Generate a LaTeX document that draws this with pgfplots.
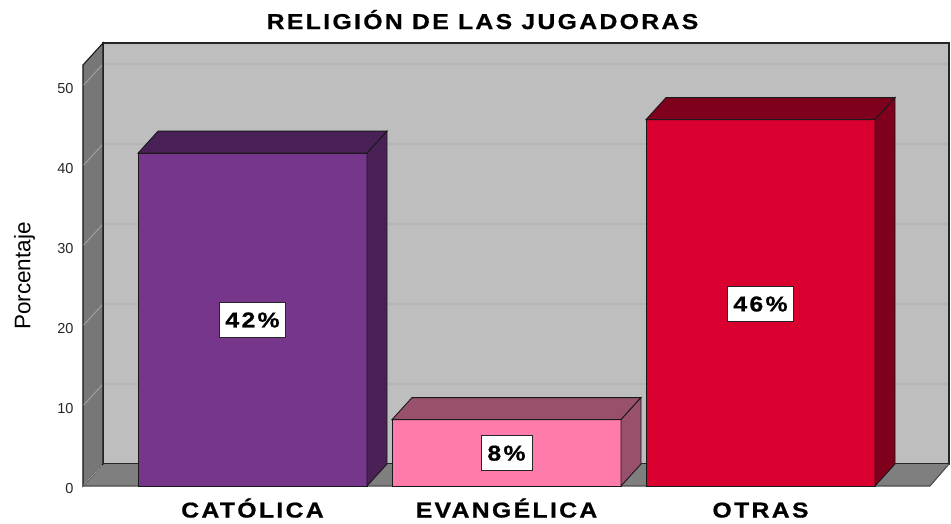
\documentclass[border=0pt]{standalone}
\usepackage{fontspec}
\usepackage{pgfplots}
\pgfplotsset{compat=1.18}
\setmainfont{Liberation Sans}
\newfontfamily\widebold[FakeStretch=1.15,LetterSpace=11,FakeBold=0.8]{Liberation Sans Bold}
\definecolor{wallc}{HTML}{BEBEBE}
\definecolor{sidec}{HTML}{777777}
\definecolor{floorc}{HTML}{7F7F7F}
\definecolor{gridback}{HTML}{B5B5B5}
\definecolor{gridside}{HTML}{A6A6A6}
\definecolor{purplef}{HTML}{75368B}
\definecolor{purplet}{HTML}{4A2157}
\definecolor{pinkf}{HTML}{FF7BAC}
\definecolor{pinkt}{HTML}{99506D}
\definecolor{redf}{HTML}{D9002F}
\definecolor{redt}{HTML}{7F001C}
\begin{document}
\begin{tikzpicture}[x=1pt,y=1pt]
  \useasboundingbox (0,0) rectangle (951,523);
  \begin{axis}[
      at={(83pt,37pt)},
      anchor=south west,
      scale only axis,
      width=866pt,
      height=443pt,
      xmin=83,
      xmax=949,
      ymin=0,
      ymax=55.375,
      clip=false,
      axis line style={draw=none},
      major tick length=0pt,
      xtick={252.5,506.5,760.5},
      xticklabels={CATÓLICA,EVANGÉLICA,OTRAS},
      x tick label style={font=\widebold\fontsize{21.5}{24}\selectfont, text height=20pt, text depth=0pt, yshift=-8pt},
      ytick={0,10,20,30,40,50},
      y tick label style={font=\fontsize{14.5}{16}\selectfont, text=black!85, xshift=-6pt, yshift=-2.5pt},
      /pgf/number format/assume math mode=true,
      ylabel={\fontsize{22.5}{24}\selectfont Porcentaje},
      ylabel style={at={(axis description cs:-0.0675,0.474)}, anchor=center},
      no marks,
    ]
    % walls and floor
    \addplot[fill=wallc, draw=black!85, line width=1.1pt] coordinates {(103,2.75) (949,2.75) (949,55.375) (103,55.375)} --cycle;
    \addplot[fill=floorc, draw=none] coordinates {(83,0) (930,0) (949,2.75) (103,2.75)} --cycle;
    \addplot[fill=sidec, draw=black!90, line width=1.1pt] coordinates {(83,0) (103,2.75) (103,55.375) (83,52.625)} --cycle;
    \addplot[draw=black!70, line width=1.1pt] coordinates {(83,0) (930,0) (949,2.75)};
    % grid lines
    \addplot[gridback, line width=1.2pt] coordinates {(104,12.75) (948,12.75)};
    \addplot[gridback, line width=1.2pt] coordinates {(104,22.75) (948,22.75)};
    \addplot[gridback, line width=1.2pt] coordinates {(104,32.75) (948,32.75)};
    \addplot[gridback, line width=1.2pt] coordinates {(104,42.75) (948,42.75)};
    \addplot[gridback, line width=1.2pt] coordinates {(104,52.75) (948,52.75)};
    \addplot[gridside, line width=0.8pt] coordinates {(83.5,0.1) (102,2.6)};
    \addplot[gridside, line width=0.8pt] coordinates {(83.5,10.1) (102,12.6)};
    \addplot[gridside, line width=0.8pt] coordinates {(83.5,20.1) (102,22.6)};
    \addplot[gridside, line width=0.8pt] coordinates {(83.5,30.1) (102,32.6)};
    \addplot[gridside, line width=0.8pt] coordinates {(83.5,40.1) (102,42.6)};
    \addplot[gridside, line width=0.8pt] coordinates {(83.5,50.1) (102,52.6)};
    % CATOLICA
    \addplot[ybar, bar width=229, fill=purplef, draw=black!90, line width=0.9pt] coordinates {(252.5,41.6)};
    \addplot[fill=purplet, draw=black!90, line width=0.9pt] coordinates {(138,41.6) (367,41.6) (387,44.35) (158,44.35)} --cycle;
    \addplot[fill=purplet, draw=black!90, line width=0.9pt] coordinates {(367,0) (387,2.75) (387,44.35) (367,41.6)} --cycle;
    % EVANGELICA
    \addplot[ybar, bar width=229, fill=pinkf, draw=black!90, line width=0.9pt] coordinates {(506.5,8.3)};
    \addplot[fill=pinkt, draw=black!90, line width=0.9pt] coordinates {(392,8.3) (621,8.3) (641,11.05) (412,11.05)} --cycle;
    \addplot[fill=pinkt, draw=black!90, line width=0.9pt] coordinates {(621,0) (641,2.75) (641,11.05) (621,8.3)} --cycle;
    % OTRAS
    \addplot[ybar, bar width=229, fill=redf, draw=black!90, line width=0.9pt] coordinates {(760.5,45.8)};
    \addplot[fill=redt, draw=black!90, line width=0.9pt] coordinates {(646,45.8) (875,45.8) (895,48.55) (666,48.55)} --cycle;
    \addplot[fill=redt, draw=black!90, line width=0.9pt] coordinates {(875,0) (895,2.75) (895,48.55) (875,45.8)} --cycle;
    % value labels
    \tikzset{vallab/.style={fill=white, draw=black!85, line width=0.9pt, inner sep=0pt, minimum height=35pt, font=\widebold\fontsize{21.5}{24}\selectfont}}
    \node[vallab, minimum width=66pt] at (axis cs:252.5,20.75) {42\%};
    \node[vallab, minimum width=51pt] at (axis cs:506.5,4.1) {8\%};
    \node[vallab, minimum width=66pt] at (axis cs:760.5,22.75) {46\%};
    % title
    \node[font=\widebold\fontsize{21.5}{24}\selectfont] at (axis cs:482.5,58.3) {RELIGIÓN DE LAS JUGADORAS};
  \end{axis}
\end{tikzpicture}
\end{document}
